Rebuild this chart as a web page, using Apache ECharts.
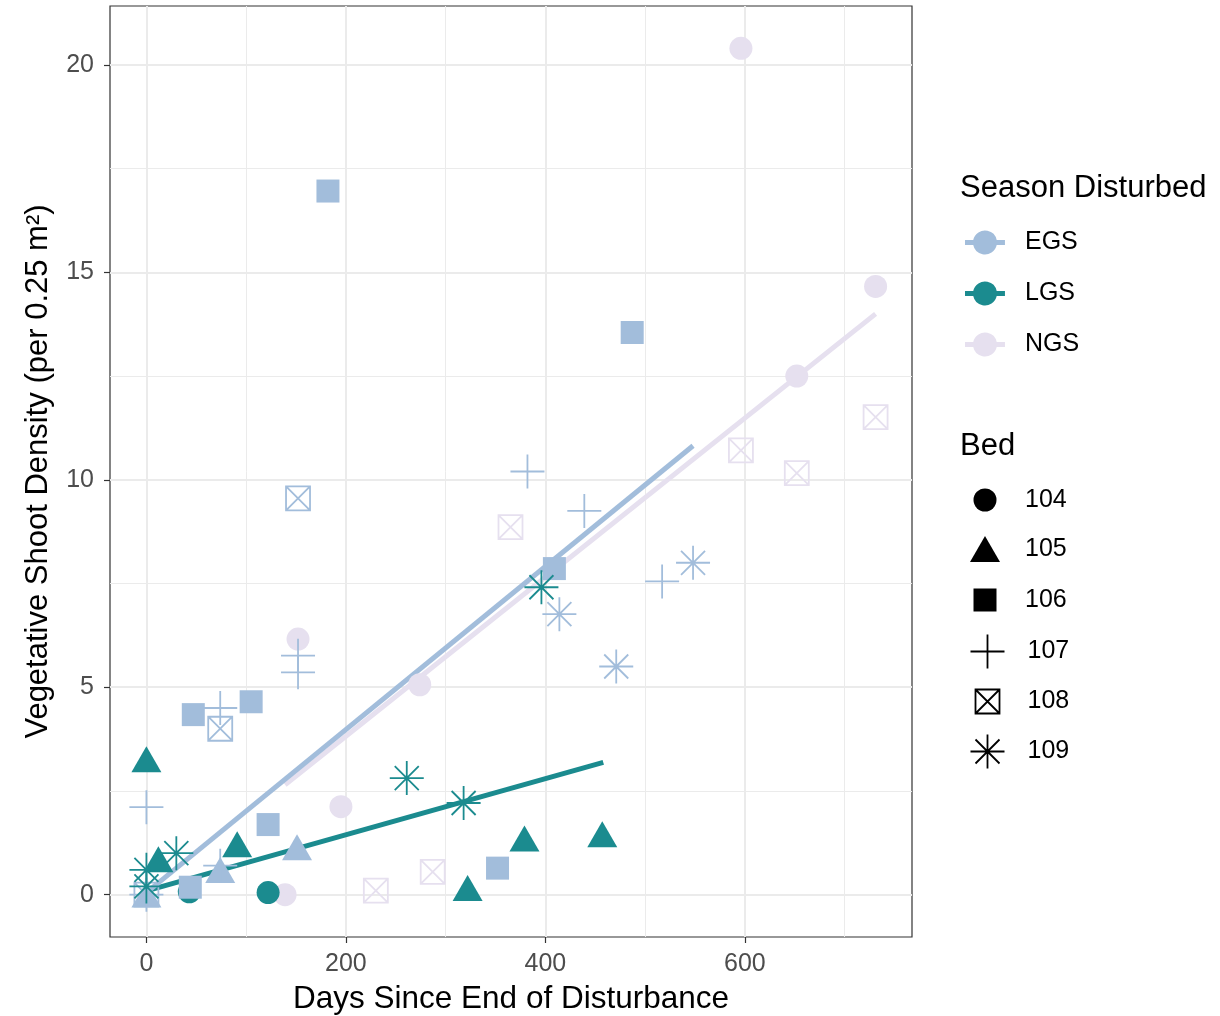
<!DOCTYPE html>
<html>
<head>
<meta charset="utf-8">
<script src="https://cdn.jsdelivr.net/npm/echarts@6/dist/echarts.min.js"></script>
<style>
  html, body { margin: 0; padding: 0; background: #ffffff; }
  #chart { width: 1220px; height: 1016px; }
</style>
</head>
<body>
<div id="chart"></div>
<script>
// Season groups and the colour used for each
const seasons = ['EGS', 'LGS', 'NGS'];
const seasonColors = ['#a2bddb', '#1b8b8f', '#e6e0ef'];
const beds = ['104', '105', '106', '107', '108', '109'];

// Observations: [days since end of disturbance, shoot density, bed]
const egsPoints = [
  [0, 0.1, '105'], [74, 0.69, '105'], [151, 1.24, '105'],
  [182, 16.96, '106'], [487, 13.55, '106'], [409, 7.86, '106'], [47, 4.34, '106'],
  [105, 4.65, '106'], [122, 1.69, '106'], [44, 0.18, '106'], [352, 0.64, '106'],
  [382, 10.2, '107'], [439, 9.25, '107'], [517, 7.55, '107'], [152, 5.76, '107'],
  [152, 5.36, '107'], [74, 4.5, '107'], [0, 2.11, '107'], [74, 0.7, '107'], [0, 0, '107'],
  [152, 9.55, '108'], [74, 4.0, '108'], [0, 0, '108'],
  [414, 6.76, '109'], [471, 5.5, '109'], [548, 8.0, '109']
];
const lgsPoints = [
  [43, 0.07, '104'], [122, 0.05, '104'],
  [0, 3.36, '105'], [12, 0.95, '105'], [91, 1.31, '105'], [322, 0.26, '105'],
  [379, 1.45, '105'], [457, 1.55, '105'],
  [261, 2.81, '109'], [318, 2.21, '109'], [396, 7.41, '109'], [30, 1.0, '109'],
  [0, 0.6, '109'], [0, 0.2, '109']
];
const ngsPoints = [
  [596, 20.4, '104'], [731, 14.66, '104'], [652, 12.5, '104'], [152, 6.16, '104'],
  [274, 5.06, '104'], [195, 2.12, '104'], [139, 0.0, '104'],
  [731, 11.51, '108'], [596, 10.71, '108'], [652, 10.16, '108'], [365, 8.86, '108'],
  [287, 0.55, '108'], [230, 0.1, '108']
];

// Linear trend per season: [first day, fitted value], [last day, fitted value]
const egsFit = [[0, 0.05], [548, 10.82]];
const lgsFit = [[0, 0.09], [458, 3.19]];
const ngsFit = [[139, 2.65], [731, 14.0]];

// Axis ticks and grid lines
const xTicks = [0, 200, 400, 600];
const yTicks = [0, 5, 10, 15, 20];
const xMajorGrid = [0, 200, 400, 600];
const xMinorGrid = [100, 300, 500, 700];
const yMajorGrid = [0, 5, 10, 15, 20];
const yMinorGrid = [2.5, 7.5, 12.5, 17.5];

const FONT = "'Liberation Sans', Arial, Helvetica, sans-serif";

// Marker shape for each bed
const bedStyles = {
  '104': { symbol: 'circle', size: [23, 23], hollow: false },
  '105': { symbol: 'triangle', size: [30, 26], hollow: false, offset: [0, 4] },
  '106': { symbol: 'rect', size: [23, 23], hollow: false },
  '107': { symbol: 'path://M0 17H34M17 0V34', size: [34, 34], hollow: true },
  '108': { symbol: 'path://M0 0H24V24H0Z M0 0L24 24 M24 0L0 24', size: [24, 24], hollow: true },
  '109': { symbol: 'path://M17 0V34 M0 17H34 M5 5L29 29 M29 5L5 29', size: [34, 34], hollow: true }
};
const STROKE = 1.8;

const pointsBySeason = { EGS: egsPoints, LGS: lgsPoints, NGS: ngsPoints };
const fitsBySeason = { EGS: egsFit, LGS: lgsFit, NGS: ngsFit };
const drawOrder = ['NGS', 'EGS', 'LGS'];

function colorOf(season) { return seasonColors[seasons.indexOf(season)]; }

function markStyle(hollow, c) {
  return hollow ? { color: 'none', borderColor: c, borderWidth: STROKE, opacity: 1 }
                : { color: c, borderWidth: 0, opacity: 1 };
}

// One scatter series per bed; each point coloured by its season
const bedSeries = beds.map(function (bed) {
  const st = bedStyles[bed];
  const data = [];
  drawOrder.forEach(function (season) {
    pointsBySeason[season].forEach(function (p) {
      if (p[2] !== bed) return;
      data.push({ value: [p[0], p[1]], itemStyle: markStyle(st.hollow, colorOf(season)) });
    });
  });
  return {
    name: bed,
    type: 'scatter',
    symbol: st.symbol,
    symbolSize: st.size,
    symbolOffset: st.offset || [0, 0],
    symbolKeepAspect: false,
    itemStyle: markStyle(st.hollow, '#000'),
    data: data,
    z: 4,
    silent: true,
    emphasis: { disabled: true }
  };
});

// Fitted trend lines, one per season
const fitSeries = ['NGS', 'LGS', 'EGS'].map(function (season) {
  const c = colorOf(season);
  return {
    name: season,
    type: 'line',
    data: fitsBySeason[season],
    showSymbol: false,
    symbol: 'none',
    lineStyle: { color: c, width: 5, cap: 'butt', opacity: 1 },
    itemStyle: { color: c },
    z: 3,
    silent: true,
    emphasis: { disabled: true }
  };
});

// Panel grid lines
function gridItems(values, axisKey, width) {
  return values.map(function (v) {
    const item = { lineStyle: { color: '#ebebeb', width: width, type: 'solid', opacity: 1 } };
    item[axisKey] = v;
    return item;
  });
}
const gridSeries = {
  name: 'panel-grid',
  type: 'line',
  data: [],
  silent: true,
  markLine: {
    silent: true,
    z: 1,
    symbol: ['none', 'none'],
    label: { show: false },
    emphasis: { disabled: true },
    animation: false,
    data: [].concat(
      gridItems(xMinorGrid, 'xAxis', 1),
      gridItems(yMinorGrid, 'yAxis', 1),
      gridItems(xMajorGrid, 'xAxis', 2),
      gridItems(yMajorGrid, 'yAxis', 2)
    )
  }
};

// Season key: a line through a dot
const seasonIcon = 'path://M0 9.5H8.26A12 12 0 0 1 31.74 9.5H40V14.5H31.74A12 12 0 0 1 8.26 14.5H0Z';

const legends = [{
  orient: 'vertical',
  left: 965,
  top: 230,
  padding: 0,
  itemWidth: 40,
  itemHeight: 24,
  itemGap: 26,
  selectedMode: false,
  textStyle: { fontFamily: FONT, fontSize: 25, color: '#000', padding: [4, 0, 0, 15] },
  data: seasons.map(function (s) {
    return { name: s, icon: seasonIcon, itemStyle: { color: colorOf(s), borderWidth: 0, opacity: 1 } };
  })
}];
beds.forEach(function (bed, i) {
  const st = bedStyles[bed];
  const w = st.size[0], h = st.size[1];
  legends.push({
    orient: 'vertical',
    left: 985 - w / 2,
    top: 499 + 50 * i - h / 2,
    padding: 0,
    itemWidth: w,
    itemHeight: h,
    selectedMode: false,
    textStyle: { fontFamily: FONT, fontSize: 25, color: '#000', padding: [3, 0, 0, 35 - w / 2] },
    data: [{ name: bed, icon: st.symbol, itemStyle: markStyle(st.hollow, '#000') }]
  });
});

const chart = echarts.init(document.getElementById('chart'), null, { renderer: 'canvas' });
chart.setOption({
  animation: false,
  backgroundColor: '#ffffff',
  textStyle: { fontFamily: FONT },
  title: [
    { text: 'Season Disturbed', left: 960, top: 173, padding: 0,
      textStyle: { fontFamily: FONT, fontSize: 31, fontWeight: 'normal', color: '#000', lineHeight: 31 } },
    { text: 'Bed', left: 960, top: 431, padding: 0,
      textStyle: { fontFamily: FONT, fontSize: 31, fontWeight: 'normal', color: '#000', lineHeight: 31 } }
  ],
  legend: legends,
  grid: {
    left: 110, top: 6, width: 802, height: 931,
    outerBoundsMode: 'none',
    containLabel: false,
    show: true, backgroundColor: '#ffffff', borderColor: '#333333', borderWidth: 1.2
  },
  xAxis: {
    type: 'value',
    min: -36.5, max: 767.5,
    name: 'Days Since End of Disturbance',
    nameLocation: 'middle',
    nameGap: 46,
    nameTextStyle: { fontFamily: FONT, fontSize: 31.5, color: '#000' },
    axisLine: { show: false, onZero: false },
    axisTick: { show: true, length: 6, lineStyle: { color: '#333333', width: 1.2 }, customValues: xTicks },
    axisLabel: { show: true, margin: 15, fontFamily: FONT, fontSize: 25, color: '#4d4d4d', customValues: xTicks },
    splitLine: { show: false }
  },
  yAxis: {
    type: 'value',
    min: -1.02, max: 21.42,
    name: 'Vegetative Shoot Density (per 0.25 m²)',
    nameLocation: 'middle',
    nameRotate: 90,
    nameGap: 56,
    nameTextStyle: { fontFamily: FONT, fontSize: 31, color: '#000' },
    axisLine: { show: false, onZero: false },
    axisTick: { show: true, length: 6, lineStyle: { color: '#333333', width: 1.2 }, customValues: yTicks },
    axisLabel: { show: true, margin: 16, fontFamily: FONT, fontSize: 25, color: '#4d4d4d', customValues: yTicks },
    splitLine: { show: false }
  },
  series: [gridSeries].concat(fitSeries, bedSeries)
});
</script>
</body>
</html>
